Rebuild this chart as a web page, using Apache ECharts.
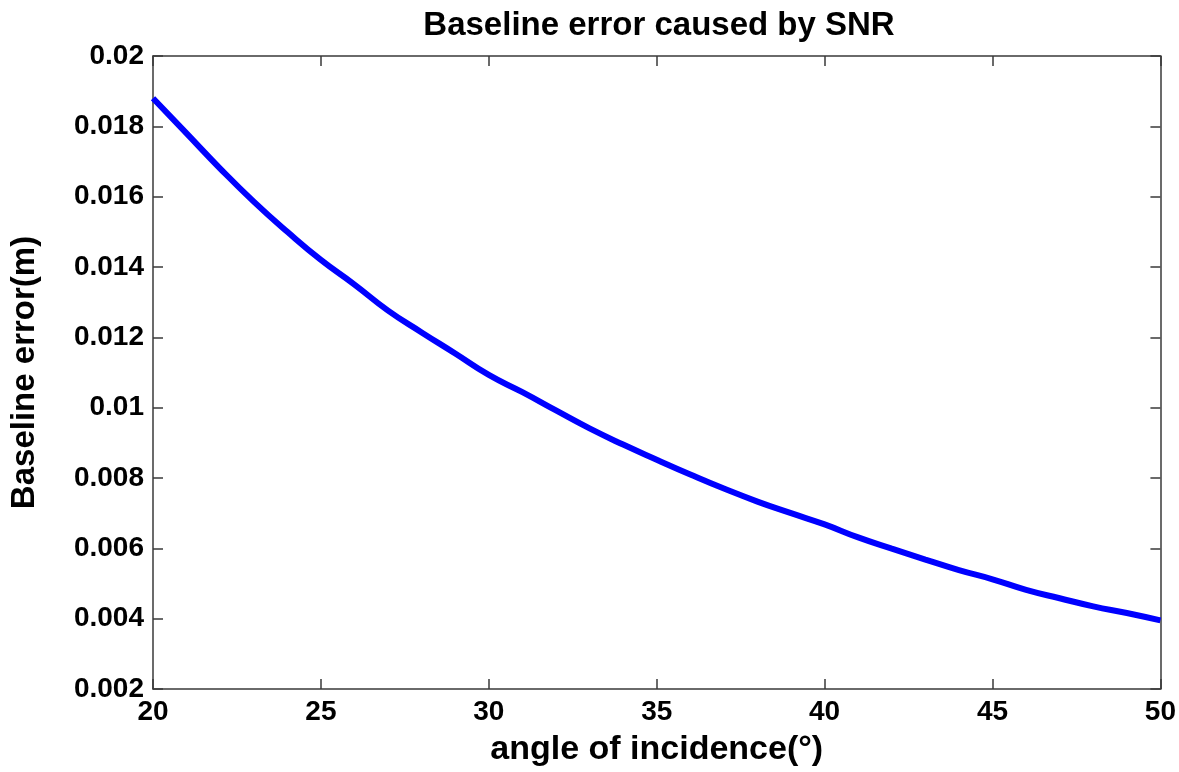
<!DOCTYPE html>
<html>
<head>
<meta charset="utf-8">
<script src="https://cdn.jsdelivr.net/npm/echarts@6/dist/echarts.min.js"></script>
<style>
html,body{margin:0;padding:0;background:#fff;}
#c{width:1179px;height:772px;}
</style>
</head>
<body>
<div id="c"></div>
<script>
const titleText = 'Baseline error caused by SNR';
const xName = 'angle of incidence(°)';
const yName = 'Baseline error(m)';
const angles = [20,21,22,23,24,25,26,27,28,29,30,31,32,33,34,35,36,37,38,39,40,41,42,43,44,45,46,47,48,49,50];
const errors = [0.0188,0.0178,0.0168,0.01586,0.0150,0.0142,0.0135,0.01276,0.01214,0.01154,0.01093,0.01044,0.00992,0.00941,0.00895,0.00852,0.0081,0.0077,0.00733,0.0070,0.00668,0.00631,0.00599,0.00568,0.00538,0.00512,0.00482,0.00458,0.00435,0.00416,0.00395];

const FONT = '"Liberation Sans", Arial, sans-serif';
const chart = echarts.init(document.getElementById('c'), null, {renderer:'canvas'});
const axisLineStyle = {color:'#3a3a3a', width:1.5};
const tickStyle = {show:true, inside:true, length:10, lineStyle:{color:'#3a3a3a', width:1.5}};
const fmtY = v => String(+v.toFixed(3));

chart.setOption({
  backgroundColor:'#ffffff',
  animation:false,
  title:{
    text:titleText, left:654, top:4, textAlign:'center',
    textStyle:{fontFamily:FONT, fontWeight:'bold', fontSize:33, color:'#000'}
  },
  grid:{left:147, right:17, top:56, bottom:72, containLabel:false},
  xAxis:[{
    type:'value', min:20, max:50, interval:5, position:'bottom',
    name:xName, nameLocation:'middle', nameGap:44,
    nameTextStyle:{fontFamily:FONT, fontWeight:'bold', fontSize:34, color:'#000'},
    axisLine:{show:true, onZero:false, lineStyle:axisLineStyle},
    axisTick:tickStyle,
    axisLabel:{fontFamily:FONT, fontWeight:'bold', fontSize:28, color:'#000', margin:9},
    splitLine:{show:false}
  },{
    type:'value', min:20, max:50, interval:5, position:'top',
    axisLine:{show:true, onZero:false, lineStyle:axisLineStyle},
    axisTick:tickStyle, axisLabel:{show:false}, splitLine:{show:false}
  }],
  yAxis:[{
    type:'value', min:0.002, max:0.02, interval:0.002, position:'left',
    name:yName, nameLocation:'middle', nameGap:112, nameRotate:90,
    nameTextStyle:{fontFamily:FONT, fontWeight:'bold', fontSize:33, color:'#000'},
    axisLine:{show:true, onZero:false, lineStyle:axisLineStyle},
    axisTick:tickStyle,
    axisLabel:{fontFamily:FONT, fontWeight:'bold', fontSize:28, color:'#000', margin:9, formatter:fmtY},
    splitLine:{show:false}
  },{
    type:'value', min:0.002, max:0.02, interval:0.002, position:'right',
    axisLine:{show:true, onZero:false, lineStyle:axisLineStyle},
    axisTick:tickStyle, axisLabel:{show:false}, splitLine:{show:false}
  }],
  series:[{
    type:'line', xAxisIndex:0, yAxisIndex:0,
    data: angles.map((a,i)=>[a, errors[i]]),
    smooth:true, showSymbol:false, symbol:'none',
    lineStyle:{color:'#0000ff', width:6},
    z:3
  }]
});
</script>
</body>
</html>
